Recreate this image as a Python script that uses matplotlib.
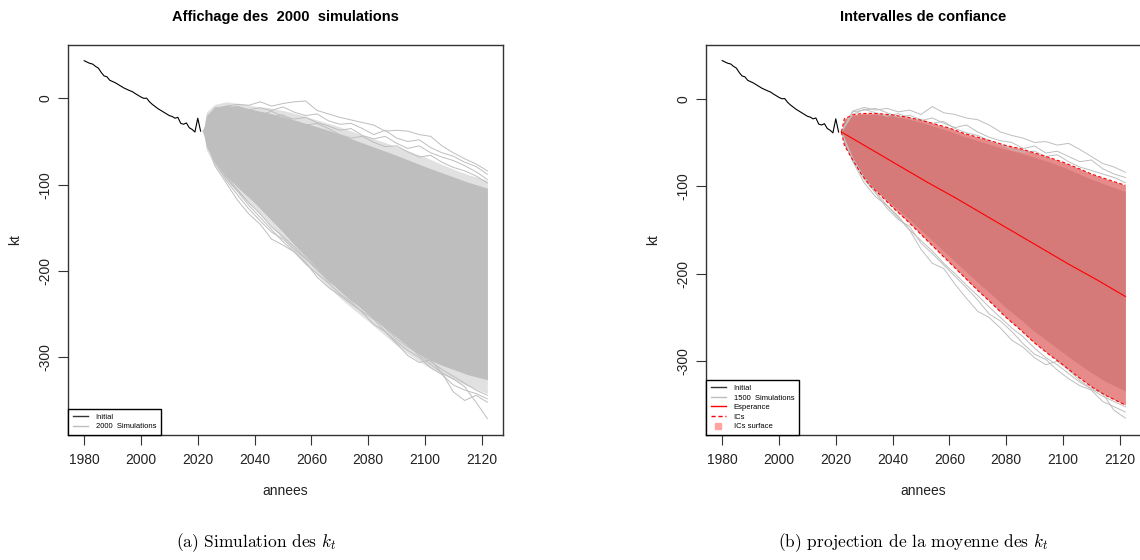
import matplotlib
matplotlib.use("Agg")
import matplotlib.pyplot as plt
from matplotlib.lines import Line2D

plt.rcParams["font.family"] = ["Liberation Sans", "DejaVu Sans"]
plt.rcParams["mathtext.fontset"] = "cm"

# ---- observed series ----
years_init = list(range(1980, 2022))
kt_init = [43.6, 42, 40.5, 39.7, 37, 35, 30, 26, 25, 21,
           19.5, 18, 16, 14, 12, 10.5, 9, 7.7, 5.5, 3.5,
           1.5, 0, 0.2, -4, -7, -9.5, -12, -14, -16, -18,
           -20, -21, -23, -22, -29, -30, -28.5, -34, -36, -39,
           -23, -38]

# ---- simulated paths (panel a): dense band + edge paths ----
env_years = [2022, 2023, 2026, 2030, 2035, 2040, 2045, 2050, 2055, 2060, 2065,
             2070, 2075, 2080, 2085, 2090, 2095, 2100, 2105, 2110, 2115, 2122]
band_a_upper = [-38, -20, -10, -8, -10, -13.5, -17, -21.5, -26, -31, -36,
                -41.5, -48, -54, -60, -66, -72.5, -79, -85, -91, -97, -104]
band_a_lower = [-38, -56, -73, -90, -106, -121, -138, -155, -173, -190, -207,
                -223, -236, -249, -263, -276, -289, -300, -308, -314, -320, -326]
halo_a_upper = [-38, -16, -7, -4, -6, -9, -11, -14, -18, -23, -28,
                -33, -39, -45, -50, -56, -62, -68, -75, -82, -88, -95]
halo_a_lower = [-38, -60, -78, -95, -112, -127, -145, -163, -181, -198, -215,
                -231, -245, -258, -272, -286, -298, -309, -318, -326, -333, -342]

path_years = list(range(2022, 2123, 4))
paths_a = {
    "u1": [-38, -14, -9, -7, -8, -4, -9, -6, -4, -3, -14, -18, -22, -25, -28, -31,
           -38, -37, -38, -42, -44, -55, -63, -70, -76, -84],
    "u2": [-38, -16, -12, -10, -13, -11, -14, -10, -16, -20, -18, -26, -30, -29, -35, -42,
           -37, -46, -50, -48, -57, -63, -67, -74, -79, -88],
    "u3": [-38, -18, -14, -12, -16, -19, -15, -21, -24, -22, -28, -32, -37, -35, -43, -47,
           -44, -52, -58, -55, -63, -68, -72, -78, -85, -94],
    "u4": [-38, -11, -13, -9, -14, -18, -21, -19, -27, -31, -29, -35, -42, -46, -44, -51,
           -56, -55, -62, -68, -66, -74, -80, -84, -90, -98],
    "l1": [-38, -78, -98, -118, -134, -146, -163, -170, -178, -190, -207, -219, -228, -238,
           -247, -256, -270, -284, -298, -306, -303, -318, -340, -350, -344, -352],
    "l2": [-38, -74, -95, -112, -128, -142, -155, -163, -175, -186, -197, -212, -220, -231,
           -244, -255, -265, -276, -286, -298, -308, -318, -325, -334, -352, -371],
    "l3": [-38, -72, -92, -108, -124, -138, -152, -166, -178, -192, -203, -214, -226, -236,
           -248, -262, -270, -282, -292, -300, -312, -320, -332, -338, -342, -348],
    "l4": [-38, -70, -90, -106, -121, -134, -149, -160, -172, -185, -199, -210, -222, -234,
           -243, -254, -266, -279, -288, -296, -305, -314, -322, -330, -338, -344],
}

# ---- panel b: expectation and confidence interval ----
ci_years = [2022, 2023, 2026, 2029, 2032, 2036, 2040, 2045, 2050, 2055, 2060, 2065,
            2070, 2075, 2080, 2085, 2090, 2095, 2100, 2105, 2110, 2115, 2122]
ci_upper = [-38, -23, -18.5, -17, -16.7, -17.3, -18.6, -21, -24.5, -29, -33.5, -39.5,
            -44, -48.5, -53.5, -57, -62, -67, -72.5, -79, -86, -91.5, -99]
ci_lower = [-38, -53, -70, -86, -99, -111, -124, -139, -155, -171, -187, -203,
            -219, -234, -250, -264, -279, -292, -304, -317, -329, -339, -350]
band_b_upper = [-38, -24, -19.5, -18, -18, -18.5, -20, -23, -27, -32, -37, -43,
                -48, -53, -58, -62, -67, -72, -78, -85, -92, -98, -106]
band_b_lower = [-38, -52, -68, -84, -97, -109, -121, -135, -150, -165, -180, -195,
                -210, -224, -239, -252, -266, -278, -290, -302, -313, -323, -334]
mean_years = [2022, 2032, 2042, 2052, 2062, 2072, 2082, 2092, 2102, 2112, 2122]
kt_mean = [-38, -57, -76, -95, -113, -132, -151, -170, -189, -207, -226]

paths_b = {
    "u1": [-38, -14, -10, -13, -11, -15, -13, -18, -9, -16, -18, -22, -24, -30, -38, -42,
           -45, -50, -49, -53, -51, -58, -66, -74, -78, -84],
    "u2": [-38, -18, -12, -16, -20, -17, -22, -25, -22, -28, -33, -30, -38, -44, -48, -50,
           -57, -54, -62, -60, -66, -72, -70, -80, -86, -90],
    "u3": [-38, -15, -13, -11, -16, -21, -19, -24, -28, -26, -34, -39, -42, -48, -52, -58,
           -61, -60, -66, -64, -72, -78, -82, -86, -90, -96],
    "l1": [-38, -72, -96, -112, -122, -134, -150, -172, -188, -194, -212, -228, -243, -250,
           -262, -276, -284, -296, -304, -300, -310, -322, -331, -337, -356, -365],
    "l2": [-38, -70, -92, -108, -125, -138, -146, -165, -177, -190, -203, -216, -230, -246,
           -254, -266, -280, -292, -298, -310, -320, -328, -333, -346, -352, -358],
    "l3": [-38, -68, -90, -106, -122, -136, -150, -162, -174, -188, -200, -213, -225, -238,
           -250, -262, -272, -285, -296, -304, -314, -324, -332, -340, -346, -352],
}

x_ticks = list(range(1980, 2121, 20))
y_ticks = [0, -100, -200, -300]

GRAY = "#BEBEBE"
FRAME = "#333333"

fig = plt.figure(figsize=(11.4, 5.6), dpi=100)
ax_a = fig.add_axes([68 / 1140, 1 - 435 / 560, 435 / 1140, 390 / 560])
ax_b = fig.add_axes([706 / 1140, 1 - 435 / 560, 435 / 1140, 390 / 560])


def style_axes(ax, ylim, title):
    ax.set_xlim(1974.3, 2127.5)
    ax.set_ylim(*ylim)
    ax.set_xticks(x_ticks)
    ax.set_yticks(y_ticks)
    ax.set_yticklabels([str(v) for v in y_ticks], rotation=90, va="center")
    ax.tick_params(direction="out", length=7, width=0.8, color=FRAME,
                   labelsize=10, labelcolor="#222222", pad=6)
    ax.tick_params(axis="y", pad=4)
    for s in ax.spines.values():
        s.set_color(FRAME)
        s.set_linewidth(1.0)
    ax.set_xlabel("annees", fontsize=10, color="#222222", labelpad=12)
    ax.set_ylabel("kt", fontsize=10, color="#222222", labelpad=12)
    ax.set_title(title, fontsize=10.5, fontweight="bold", pad=17)


def r_legend(ax, handles, labels):
    ax.legend(handles=handles, labels=labels, loc="lower left", borderaxespad=0,
              fontsize=5.5, frameon=True, fancybox=False, edgecolor="black",
              framealpha=1, handlelength=2.0, handletextpad=1.0, borderpad=0.6,
              labelspacing=0.3)


# panel a
ax_a.fill_between(env_years, halo_a_lower, halo_a_upper, color=GRAY, alpha=0.45, lw=0)
ax_a.fill_between(env_years, band_a_lower, band_a_upper, color=GRAY, lw=0)
for vals in paths_a.values():
    ax_a.plot(path_years, vals, color=GRAY, lw=0.7)
ax_a.plot(years_init, kt_init, color="black", lw=0.8)
style_axes(ax_a, (-390, 61.8), "Affichage des  2000  simulations")
r_legend(ax_a, [Line2D([], [], color="#333333", lw=1),
                Line2D([], [], color=GRAY, lw=1)],
         ["Initial", "2000  Simulations"])

# panel b
ax_b.fill_between(ci_years, ci_lower, ci_upper, color=GRAY, alpha=0.6, lw=0)
ax_b.fill_between(ci_years, band_b_lower, band_b_upper, color=GRAY, lw=0)
for vals in paths_b.values():
    ax_b.plot(path_years, vals, color=GRAY, lw=0.7)
ax_b.fill_between(ci_years, ci_lower, ci_upper, color="red", alpha=0.36, lw=0)
ax_b.plot(ci_years, ci_upper, color="red", lw=0.8, ls=(0, (3, 2)))
ax_b.plot(ci_years, ci_lower, color="red", lw=0.8, ls=(0, (3, 2)))
ax_b.plot(mean_years, kt_mean, color="red", lw=0.8)
ax_b.plot(years_init, kt_init, color="black", lw=0.8)
style_axes(ax_b, (-384.3, 61.4), "Intervalles de confiance")
r_legend(ax_b, [Line2D([], [], color="#333333", lw=1),
                Line2D([], [], color=GRAY, lw=1),
                Line2D([], [], color="red", lw=1),
                Line2D([], [], color="red", lw=1, ls=(0, (3, 2))),
                Line2D([], [], color=(1, 0.64, 0.64), lw=0, marker="s", markersize=4)],
         ["Initial", "1500  Simulations", "Esperance", "ICs", "ICs surface"])

# sub-figure captions
cap_kw = dict(fontsize=12.5, fontfamily="cmr10", ha="center", va="center")
fig.text(256 / 1140, 1 - 543 / 560, r"(a) Simulation des $k_t$", **cap_kw)
fig.text(913 / 1140, 1 - 543 / 560, r"(b) projection de la moyenne des $k_t$", **cap_kw)

fig.savefig("out.png", dpi=100)
